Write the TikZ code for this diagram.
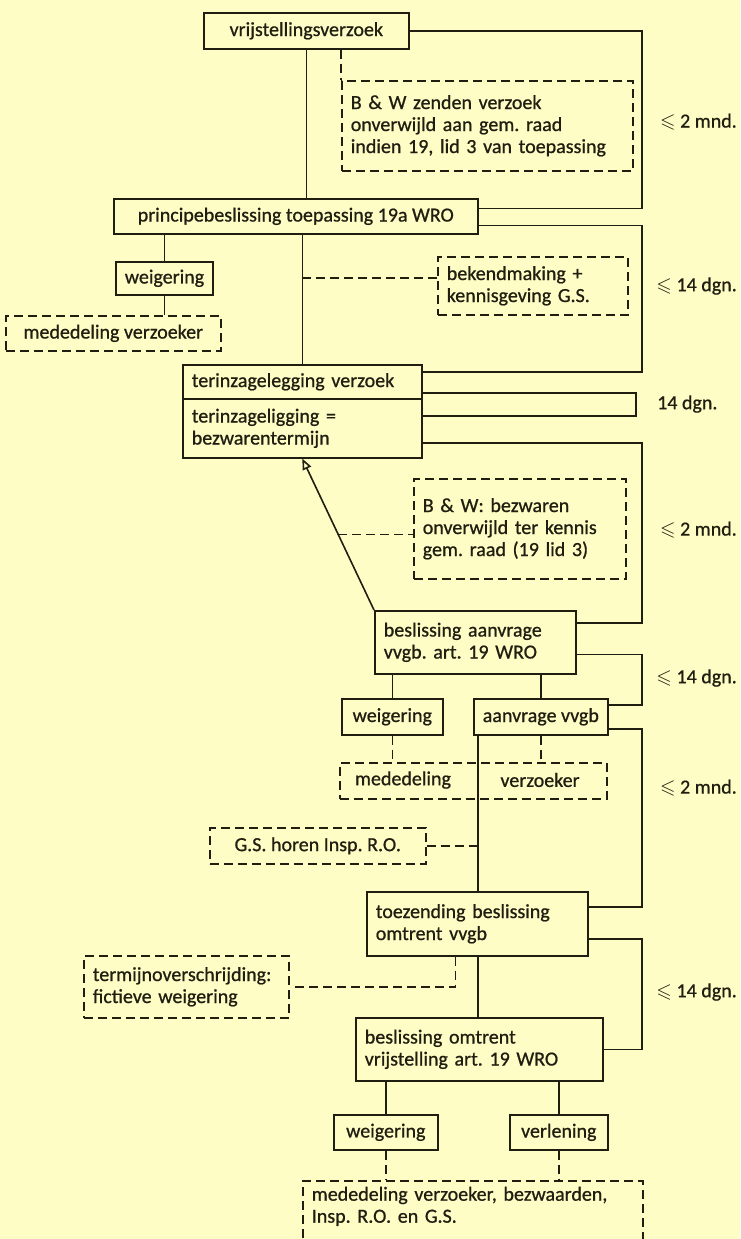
\documentclass[tikz,border=0pt]{standalone}
\usepackage{amsmath, amssymb}
\usepackage{fontspec}
\setmainfont{Carlito}[FakeBold=0.8]
\usepackage{tikz}
\usetikzlibrary{arrows.meta, calc}
\definecolor{paper}{RGB}{254,253,198}
\definecolor{ink}{RGB}{32,30,16}
\frenchspacing

\begin{document}
\begin{tikzpicture}[x=1pt, y=-1pt]

\tikzset{box/.style = {draw=ink, text=ink, line width=1.6pt, inner xsep=9pt, inner ysep=2pt, anchor=north west, font=\fontsize{20}{22}\selectfont}}
\tikzset{dbox/.style = {box, dash pattern=on 9pt off 5pt}}
\tikzset{wide/.style = {align=left, text width=#1}}
\tikzset{lbl/.style = {text=ink, anchor=east, inner sep=0pt, font=\fontsize{20}{22}\selectfont}}
\tikzset{wire/.style = {draw=ink, line width=1.6pt}}
\tikzset{dwire/.style = {wire, dash pattern=on 9pt off 5pt}}

\fill[paper] (0,0) rectangle (740,1239);
\useasboundingbox (0,0) rectangle (740,1239);

% vertices
\node[box, minimum width=205pt, minimum height=36pt] (verzoek) at (203,12) {vrijstellingsverzoek};
\node[dbox, wide=273pt, minimum height=90pt] (bwzenden) at (341,80) {B \& W zenden verzoek\\ onverwijld aan gem. raad\\ indien 19, lid 3 van toepassing};
\node[box, minimum width=364pt, minimum height=35pt] (principe) at (113,198) {principebeslissing toepassing 19a WRO};
\node[box, minimum width=97pt, minimum height=33pt] (weig1) at (115,261) {weigering};
\node[dbox, minimum width=215pt, minimum height=35pt] (meded1) at (5,315) {mededeling verzoeker};
\node[dbox, wide=172pt, minimum height=58pt] (bekend) at (437,256) {bekendmaking +\\ kennisgeving G.S.};
\node[box, wide=221pt, minimum height=34pt] (tz1) at (182,364) {terinzagelegging verzoek};
\node[box, wide=221pt, minimum height=59pt] (tz2) at (182,398) {terinzageligging =\\ bezwarentermijn};
\node[dbox, wide=194pt, minimum height=100pt] (bwbezw) at (413,478) {B \& W: bezwaren\\ onverwijld ter kennis\\ gem. raad (19 lid 3)};
\node[box, wide=183pt, minimum height=63pt] (beslaanv) at (374,610) {beslissing aanvrage\\ vvgb. art. 19 WRO};
\node[box, minimum width=101pt, minimum height=36pt] (weig2) at (341,698) {weigering};
\node[box, minimum width=133pt, minimum height=36pt] (aanvvgb) at (473,698) {aanvrage vvgb};
\node[dbox, minimum width=267pt, minimum height=36pt] (meded2) at (339,762) {};
\node[lbl, anchor=center] (medtxt) at (403,780) {mededeling};
\node[lbl, anchor=center] (verztxt) at (540,780) {verzoeker};
\node[dbox, minimum width=216pt, minimum height=36pt] (gsh) at (209,827) {G.S. horen Insp. R.O.};
\node[box, wide=203pt, minimum height=64pt] (toez) at (366,891) {toezending beslissing\\ omtrent vvgb};
\node[dbox, wide=187pt, minimum height=62pt] (termijn) at (83,955) {termijnoverschrijding:\\ fictieve weigering};
\node[box, wide=229pt, minimum height=63pt] (beslomtr) at (355,1017) {beslissing omtrent\\ vrijstelling art. 19 WRO};
\node[box, minimum width=104pt, minimum height=35pt] (weig3) at (333,1114) {weigering};
\node[box, minimum width=98pt, minimum height=35pt] (verlen) at (509,1114) {verlening};
\node[dbox, wide=322pt, inner ysep=6pt] (meded3) at (302,1180) {mededeling verzoeker, bezwaarden,\\ Insp. R.O. en G.S.\\ \mbox{}};

% terms
\node[lbl] (t1) at (737,122) {$\leqslant$ 2 mnd.};
\node[lbl] (t2) at (737,286) {$\leqslant$ 14 dgn.};
\node[lbl, anchor=west] (t3) at (657,404) {14 dgn.};
\node[lbl] (t4) at (737,530) {$\leqslant$ 2 mnd.};
\node[lbl] (t5) at (737,678) {$\leqslant$ 14 dgn.};
\node[lbl] (t6) at (737,788) {$\leqslant$ 2 mnd.};
\node[lbl] (t7) at (737,992) {$\leqslant$ 14 dgn.};

%edges
\draw[wire] (verzoek.south) -- (verzoek.south |- principe.north);
\draw[dwire] (bwzenden.north west |- verzoek.south) -- (bwzenden.north west);
\draw[wire] (weig1.north |- principe.south) -- (weig1.north);
\draw[wire] (weig1.south) -- (weig1.south |- meded1.north);
\draw[wire] (tz1.north |- principe.south) -- (tz1.north);
\coordinate (bekin) at ([yshift=8pt]bekend.west);
\draw[dwire] (bekin) -- (bekin -| tz1.north);

\draw[wire, -{Triangle[open, length=11pt, width=9pt]}] (beslaanv.north west) -- (tz2.south);
\coordinate (mid) at ($(tz2.south)!0.5!(beslaanv.north west)$);
\draw[dwire] (mid) -- (mid -| bwbezw.west);

\draw[wire] (weig2.north |- beslaanv.south) -- (weig2.north);
\draw[wire] (aanvvgb.north |- beslaanv.south) -- (aanvvgb.north);
\draw[dwire] (weig2.south) -- (weig2.south |- meded2.north);
\draw[dwire] (aanvvgb.south) -- (aanvvgb.south |- meded2.north);
\coordinate (stem) at ([xshift=5pt]aanvvgb.south west);
\draw[wire] (stem) -- (stem |- toez.north);
\draw[dwire] (gsh.east) -- (gsh.east -| stem);
\draw[wire] (stem |- toez.south) -- (stem |- beslomtr.north);
\coordinate (tzdash) at ([xshift=-22pt]toez.south);
\draw[dwire] (tzdash) |- (termijn.east);

\draw[wire] (weig3.north |- beslomtr.south) -- (weig3.north);
\draw[wire] (verlen.north |- beslomtr.south) -- (verlen.north);
\draw[dwire] (weig3.south) -- (weig3.south |- meded3.north);
\draw[dwire] (verlen.south) -- (verlen.south |- meded3.north);

% brackets on the right
\coordinate (rail) at (642,0);
\coordinate (rail2) at (636,0);
\coordinate (pr1) at ([yshift=8pt]principe.east);
\coordinate (pr2) at ([yshift=-9pt]principe.east);
\coordinate (ta1) at ([yshift=10pt]tz1.east);
\coordinate (ta2) at ([yshift=-11pt]tz1.east);
\coordinate (tb1) at ([yshift=12.5pt]tz2.east);
\coordinate (tb2) at ([yshift=-14.5pt]tz2.east);
\coordinate (ba1) at ([yshift=19.5pt]beslaanv.east);
\coordinate (ba2) at ([yshift=-12pt]beslaanv.east);
\coordinate (av1) at ([yshift=12pt]aanvvgb.east);
\coordinate (av2) at ([yshift=-12pt]aanvvgb.east);
\coordinate (to1) at ([yshift=17pt]toez.east);
\coordinate (to2) at ([yshift=-15pt]toez.east);

\draw[wire] (verzoek.east) -- (verzoek.east -| rail) -- (rail |- pr1) -- (pr1);
\draw[wire] (pr2) -- (pr2 -| rail) -- (rail |- ta1) -- (ta1);
\draw[wire] (ta2) -- (ta2 -| rail2) -- (rail2 |- tb1) -- (tb1);
\draw[wire] (tb2) -- (tb2 -| rail) -- (rail |- ba1) -- (ba1);
\draw[wire] (ba2) -- (ba2 -| rail) -- (rail |- av1) -- (av1);
\draw[wire] (av2) -- (av2 -| rail) -- (rail |- to1) -- (to1);
\draw[wire] (to2) -- (to2 -| rail) -- (rail |- beslomtr.east) -- (beslomtr.east);

\end{tikzpicture}
\end{document}
